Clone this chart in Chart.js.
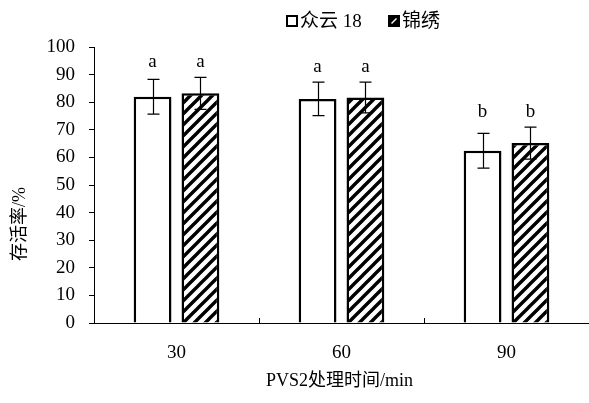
<!DOCTYPE html>
<html>
<head>
<meta charset="utf-8">
<script src="https://cdn.jsdelivr.net/npm/chart.js@4.4.1/dist/chart.umd.min.js"></script>
<style>
  html, body { margin: 0; padding: 0; background: #fff; }
  #wrap { width: 589px; height: 403px; position: relative; }
</style>
</head>
<body>
<div id="wrap"><canvas id="c" width="589" height="403"></canvas></div>
<script>
// Survival rate (%) after PVS2 treatment for two cultivars
const categories = ['30', '60', '90'];
const seriesNames = ['众云 18', '锦绣'];
const zhongyun = [82.0, 81.2, 62.4];
const zhongyunSD = [6.3, 6.1, 6.3];
const jinxiu = [83.2, 81.7, 65.2];
const jinxiuSD = [5.8, 5.6, 5.8];
const groupLetters = ['a', 'a', 'b'];
const yTicks = [0, 10, 20, 30, 40, 50, 60, 70, 80, 90, 100];

const FONT = '"Liberation Serif", "Times New Roman", "Noto Sans CJK SC", serif';

// diagonal hatch fill
function makeHatch(size, lineW, fg, bg) {
  const p = document.createElement('canvas');
  p.width = size; p.height = size;
  const g = p.getContext('2d');
  g.fillStyle = bg; g.fillRect(0, 0, size, size);
  g.strokeStyle = fg; g.lineWidth = lineW; g.lineCap = 'square';
  g.beginPath();
  g.moveTo(-2, size + 2); g.lineTo(size + 2, -2);
  g.moveTo(-2, 2); g.lineTo(2, -2);
  g.moveTo(size - 2, size + 2); g.lineTo(size + 2, size - 2);
  g.stroke();
  return document.getElementById('c').getContext('2d').createPattern(p, 'repeat');
}
const hatch = makeHatch(11, 3.4, '#000', '#fff');

const errs = [zhongyunSD, jinxiuSD];

const extras = {
  id: 'extras',
  afterDatasetsDraw(chart) {
    const ctx = chart.ctx;
    const y = chart.scales.y, x = chart.scales.x;
    ctx.save();
    ctx.strokeStyle = '#000';
    ctx.lineWidth = 1.2;
    // error bars
    chart.data.datasets.forEach((ds, di) => {
      const meta = chart.getDatasetMeta(di);
      meta.data.forEach((bar, i) => {
        const v = ds.data[i], sd = errs[di][i];
        const cx = Math.round(bar.x) + 0.5;
        const yt = y.getPixelForValue(v + sd), yb = y.getPixelForValue(v - sd);
        ctx.beginPath();
        ctx.moveTo(cx, yt); ctx.lineTo(cx, yb);
        ctx.moveTo(cx - 6, yt); ctx.lineTo(cx + 6, yt);
        ctx.moveTo(cx - 6, yb); ctx.lineTo(cx + 6, yb);
        ctx.stroke();
      });
    });
    // significance letters above each bar
    ctx.fillStyle = '#000';
    ctx.font = '19px ' + FONT;
    ctx.textAlign = 'center';
    ctx.textBaseline = 'middle';
    categories.forEach((c, i) => {
      const top = Math.max(zhongyun[i] + zhongyunSD[i], jinxiu[i] + jinxiuSD[i]);
      const ly = y.getPixelForValue(top) - 15;
      chart.data.datasets.forEach((ds, di) => {
        const bar = chart.getDatasetMeta(di).data[i];
        ctx.fillText(groupLetters[i], bar.x, ly);
      });
    });
    // small inward ticks between categories on the x axis
    ctx.lineWidth = 1;
    for (let i = 1; i < categories.length; i++) {
      const px = Math.round((x.getPixelForValue(i - 1) + x.getPixelForValue(i)) / 2) + 0.5;
      ctx.beginPath();
      ctx.moveTo(px, y.bottom); ctx.lineTo(px, y.bottom - 5);
      ctx.stroke();
    }
    // axis titles
    ctx.font = '18px ' + FONT;
    ctx.fillText('PVS2处理时间/min', (x.left + x.right) / 2 - 2, 381);
    ctx.save();
    ctx.translate(20, 224);
    ctx.rotate(-Math.PI / 2);
    ctx.fillText('存活率/%', 0, 0);
    ctx.restore();
    // legend
    const items = [{ x: 287 }, { x: 389 }];
    ctx.textAlign = 'left';
    ctx.font = '19px ' + FONT;
    items.forEach((it, k) => {
      const bx = it.x, by = 16, s = 10;
      ctx.fillStyle = '#fff';
      ctx.fillRect(bx, by, s, s);
      if (k === 1) {
        ctx.fillStyle = '#000';
        ctx.fillRect(bx, by, s, s);
        ctx.strokeStyle = '#fff';
        ctx.lineWidth = 1.5;
        ctx.beginPath();
        ctx.moveTo(bx + 2.5, by + s - 2.5); ctx.lineTo(bx + s - 2.5, by + 2.5);
        ctx.stroke();
      }
      ctx.strokeStyle = '#000';
      ctx.lineWidth = 2;
      ctx.strokeRect(bx, by, s, s);
      ctx.fillStyle = '#000';
      ctx.fillText(seriesNames[k], bx + s + 3, by + s / 2 + 1);
    });
    ctx.restore();
  }
};

new Chart(document.getElementById('c'), {
  type: 'bar',
  data: {
    labels: categories,
    datasets: [
      { label: seriesNames[0], data: zhongyun, backgroundColor: '#fff', borderColor: '#000', borderWidth: 2.5 },
      { label: seriesNames[1], data: jinxiu, backgroundColor: hatch, borderColor: '#000', borderWidth: 2.5 }
    ]
  },
  options: {
    responsive: false,
    animation: false,
    events: [],
    devicePixelRatio: 1,
    categoryPercentage: 0.58,
    barPercentage: 0.79,
    layout: { padding: { top: 47, right: 0, left: 0, bottom: 0 } },
    plugins: { legend: { display: false }, tooltip: { enabled: false } },
    scales: {
      x: {
        grid: { display: false },
        border: { display: true, color: '#000', width: 1 },
        ticks: { color: '#000', font: { family: FONT, size: 19 }, padding: 11 },
        afterFit(s) { s.height = 80; }
      },
      y: {
        min: 0, max: 100,
        afterBuildTicks(s) { s.ticks = yTicks.map(v => ({ value: v })); },
        grid: { drawOnChartArea: false, tickLength: 5, color: '#000' },
        border: { display: true, color: '#000', width: 1 },
        ticks: { color: '#000', font: { family: FONT, size: 19 }, padding: 14 },
        afterFit(s) { s.width = 94; }
      }
    }
  },
  plugins: [extras]
});
</script>
</body>
</html>
